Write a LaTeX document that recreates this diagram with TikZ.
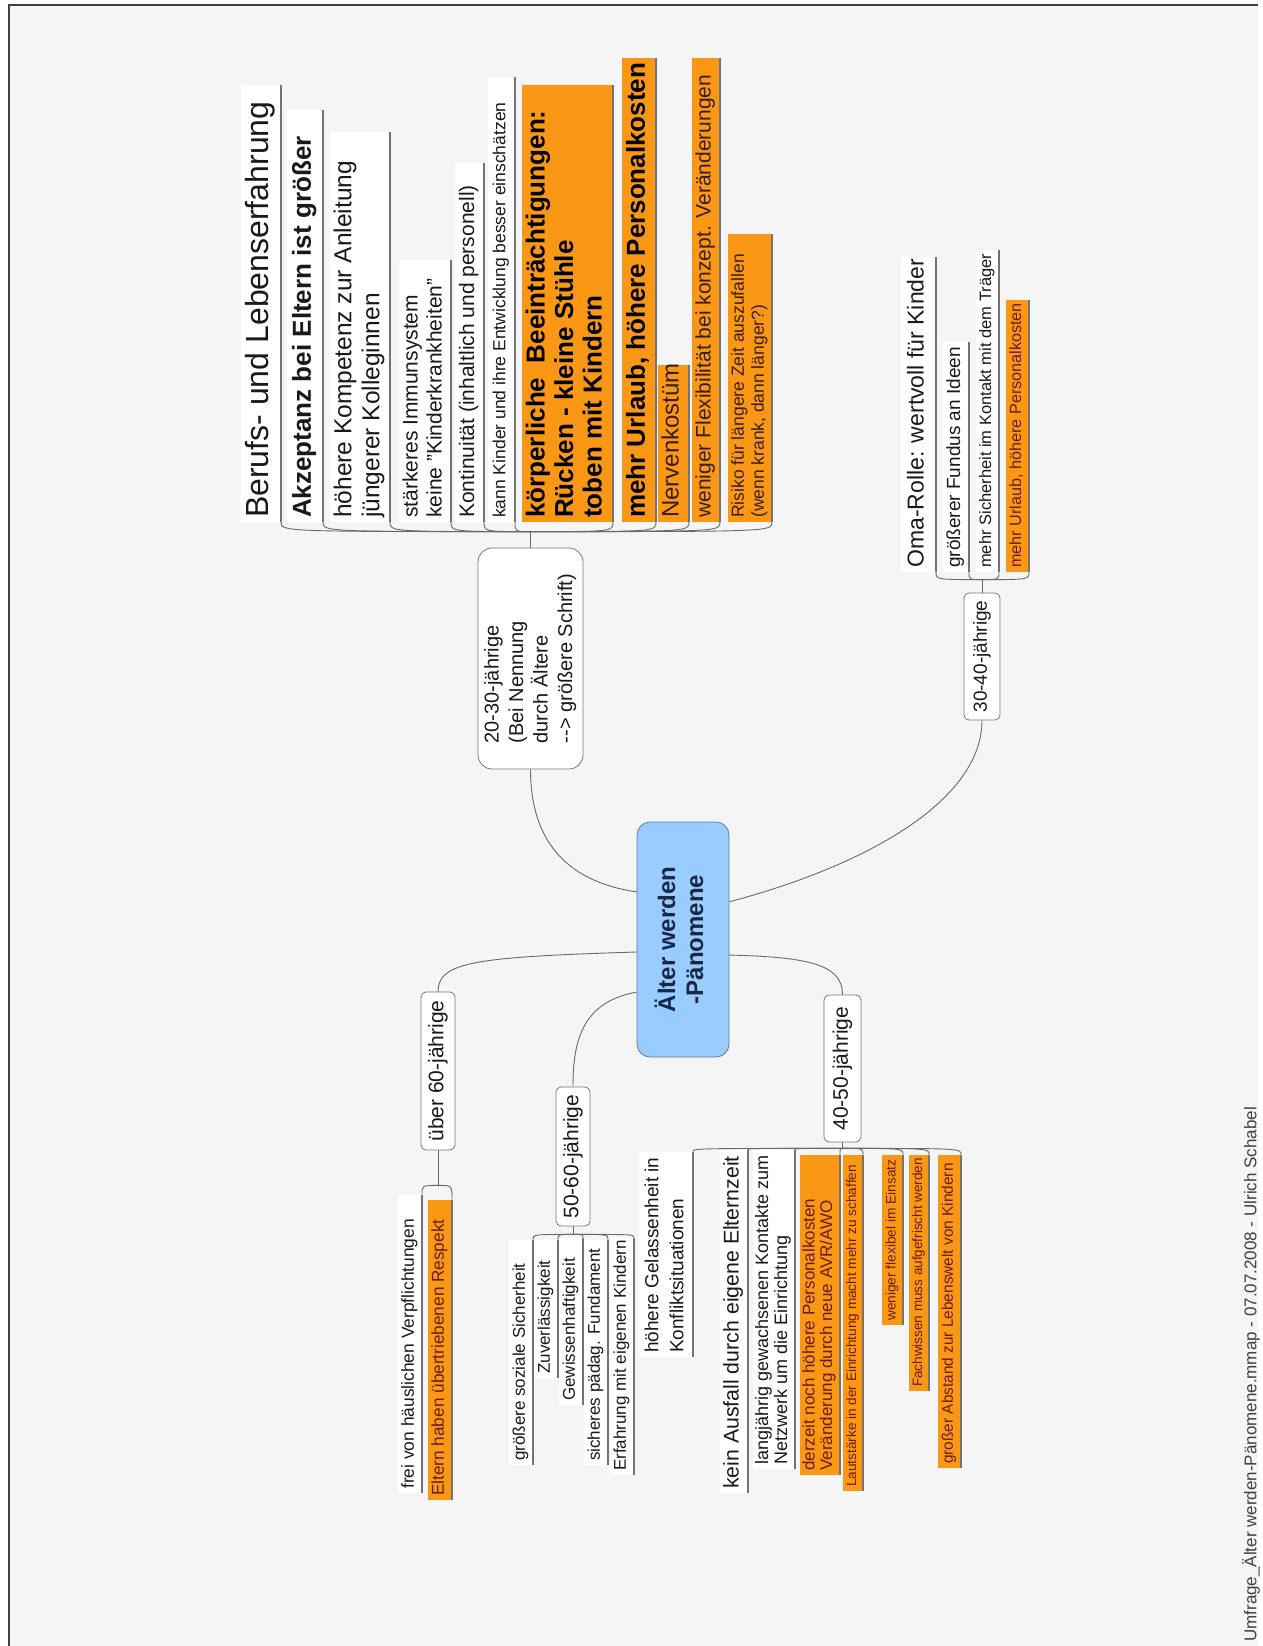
\documentclass[tikz,border=0pt]{standalone}
\usepackage{fontspec}
\setmainfont{Liberation Sans}
\usepackage{graphicx}
\usetikzlibrary{calc}
\definecolor{bgc}{RGB}{245,245,245}
\definecolor{org}{RGB}{250,152,22}
\definecolor{orgtxt}{RGB}{105,28,10}
\definecolor{orgtxd}{RGB}{55,30,20}
\definecolor{lnc}{RGB}{105,105,105}
\definecolor{ulc}{RGB}{115,115,115}
\definecolor{bnc}{RGB}{120,120,120}
\definecolor{txt}{RGB}{25,25,25}
\definecolor{cblue}{RGB}{153,204,255}
\definecolor{cblueb}{RGB}{95,125,165}
\definecolor{ctxt}{RGB}{25,40,70}
\newcommand\rt[4]{\rotatebox{90}{\fontsize{#2pt}{#3pt}\selectfont\makebox[#1pt][l]{\hspace{4pt}\begin{tabular}{@{}l@{}}#4\end{tabular}}}}
\newcommand\rtb[4]{\rotatebox{90}{\fontsize{#2pt}{#3pt}\selectfont\bfseries\makebox[#1pt][l]{\hspace{4pt}\begin{tabular}{@{}l@{}}#4\end{tabular}}}}
\tikzset{
 conn/.style={draw=lnc, line width=0.9pt},
 uline/.style={draw=ulc, line width=1.3pt},
 wstrip/.style={fill=white, inner xsep=2pt, inner ysep=0pt, minimum width=#1pt, anchor=south east, text=txt},
 ostrip/.style={fill=org, inner xsep=2pt, inner ysep=0pt, minimum width=#1pt, anchor=south east, text=orgtxt},
 ostripd/.style={ostrip=#1, text=orgtxd},
 ostripk/.style={ostrip=#1, text=black},
 bnode/.style={draw=bnc, fill=white, line width=0.8pt, rounded corners=5pt, inner sep=0pt, text=txt},
 cnode/.style={draw=cblueb, fill=cblue, line width=0.8pt, rounded corners=13pt, inner sep=0pt, text=ctxt},
 bordr/.style={draw=black!75, line width=2pt}
}
\begin{document}
\begin{tikzpicture}[x=1pt,y=-1pt]
\useasboundingbox (0,0) rectangle (1262,1646);
\fill[white] (0,0) rectangle (1262,1646);
\fill[bgc] (9,5) rectangle (1258,1646);
\draw[bordr] (9,1646) -- (9,5) -- (1258,5);

% ---------- central and branch nodes ----------
\node[cnode, minimum width=92pt, minimum height=235pt] (nC) at (683,939.5)
  {\rotatebox{90}{\fontsize{24pt}{28pt}\selectfont\bfseries\begin{tabular}{@{}c@{}}Älter werden\\-Pänomene\end{tabular}}};
\node[bnode, minimum width=105pt, minimum height=221pt, rounded corners=14pt] (n2030) at (530.5,658.5)
  {\rotatebox{90}{\fontsize{20pt}{24.5pt}\selectfont\begin{tabular}{@{}l@{}}20-30-jährige\\(Bei Nennung\\durch Ältere\\-{}-> größere Schrift)\end{tabular}}};
\node[bnode, minimum width=36pt, minimum height=127pt] (n3040) at (982,656.5)
  {\rotatebox{90}{\fontsize{19pt}{22pt}\selectfont 30-40-jährige}};
\node[bnode, minimum width=34pt, minimum height=158pt] (n60) at (438,1071)
  {\rotatebox{90}{\fontsize{21pt}{24pt}\selectfont über 60-jährige}};
\node[bnode, minimum width=34pt, minimum height=139pt] (n5060) at (573,1156.5)
  {\rotatebox{90}{\fontsize{21pt}{24pt}\selectfont 50-60-jährige}};
\node[bnode, minimum width=37pt, minimum height=147pt] (n4050) at (842.5,1068.5)
  {\rotatebox{90}{\fontsize{21pt}{24pt}\selectfont 40-50-jährige}};

% connection points on the central node
\coordinate (cL1) at ($(nC.north west)!0.298!(nC.south west)$);
\coordinate (cL2) at ($(nC.north west)!0.553!(nC.south west)$);
\coordinate (cL3) at ($(nC.north west)!0.723!(nC.south west)$);
\coordinate (cR1) at ($(nC.north east)!0.34!(nC.south east)$);
\coordinate (cR2) at ($(nC.north east)!0.566!(nC.south east)$);

\draw[conn] (n2030.south) .. controls ($(n2030.south)+(0,85)$) and ($(cL1)+(-55,-8)$) .. (cL1);
\draw[conn] (n3040.south) .. controls ($(n3040.south)+(0,75)$) and ($(cR1)+(150,-40)$) .. (cR1);
\draw[conn] (cL2) .. controls ($(cL2)+(-160,5)$) and ($(n60.north)+(0,-30)$) .. (n60.north);
\draw[conn] (cL3) .. controls ($(cL3)+(-55,10)$) and ($(n5060.north)+(0,-45)$) .. (n5060.north);
\draw[conn] (cR2) .. controls ($(cR2)+(80,2)$) and ($(n4050.north)+(0,-30)$) .. (n4050.north);

% ---------- 20-30 children ----------
\node[wstrip=38] (t1) at (281,522) {\rt{437}{32}{36}{Berufs- und Lebenserfahrung}};
\node[wstrip=36] (t2) at (323,522) {\rtb{412}{26}{30}{Akzeptanz bei Eltern ist größer}};
\node[wstrip=58] (t3) at (390,522) {\rt{390}{24.5}{28}{höhere Kompetenz zur Anleitung\\jüngerer Kolleginnen}};
\node[wstrip=52] (t4) at (451,522) {\rt{262}{21}{24}{stärkeres Immunsystem\\keine "Kinderkrankheiten"}};
\node[wstrip=29] (t5) at (484,522) {\rt{359}{21}{24}{Kontinuität (inhaltlich und personell)}};
\node[wstrip=27] (t6) at (515,522) {\rt{445}{17.5}{20}{kann Kinder und ihre Entwicklung besser einschätzen}};
\node[ostripk=91] (t7) at (613,522) {\rtb{437}{26}{28.5}{körperliche\ \ Beeinträchtigungen:\\Rücken - kleine Stühle\\toben mit Kindern}};
\node[ostripk=34] (t8) at (656,522) {\rtb{464}{26}{30}{mehr Urlaub, höhere Personalkosten}};
\node[ostripd=26] (t9) at (689,522) {\rt{157}{24}{27}{Nervenkostüm}};
\node[ostripd=25] (t10) at (720,522) {\rt{464}{21}{24}{weniger Flexibilität bei konzept. Veränderungen}};
\node[ostripd=42] (t11) at (772,522) {\rt{288}{17.5}{20}{Risiko für längere Zeit auszufallen\\(wenn krank, dann länger?)}};

\coordinate (h1) at ($(n2030.north)+(0,-16)$);
\draw[conn] (n2030.north) -- (h1);
\foreach \s in {t1,t2,t3,t4,t5,t6,t7,t8,t9,t10,t11} {
  \draw[conn] (h1) .. controls (h1 -| \s.south east) .. (\s.south east);
  \draw[uline] (\s.south east) -- (\s.north east);
}

% ---------- 30-40 children ----------
\node[wstrip=35] (o1) at (936,572) {\rt{315}{23}{26}{Oma-Rolle: wertvoll für Kinder}};
\node[wstrip=25] (o2) at (969,572) {\rt{230}{19}{22}{größerer Fundus an Ideen}};
\node[wstrip=22] (o3) at (999,572) {\rt{322}{16.5}{19}{mehr Sicherheit im Kontakt mit dem Träger}};
\node[ostrip=23] (o4) at (1029,572) {\rt{272}{16.2}{19}{mehr Urlaub, höhere Personalkosten}};
\coordinate (h2) at ($(n3040.north)+(0,-13)$);
\draw[conn] (n3040.north) -- (h2);
\foreach \s in {o1,o2,o3,o4} {
  \draw[conn] (h2) .. controls (h2 -| \s.south east) .. (\s.south east);
  \draw[uline] (\s.south east) -- (\s.north east);
}

% ---------- ueber 60 children ----------
\node[wstrip=22] (b1) at (422,1493) {\rt{298}{17.4}{20}{frei von häuslichen Verpflichtungen}};
\node[ostrip=22] (b2) at (452,1500) {\rt{300}{17.2}{20}{Eltern haben übertriebenen Respekt}};
\coordinate (h3) at ($(n60.south)+(0,35)$);
\draw[conn] (n60.south) -- (h3);
\foreach \s in {b1,b2} {
  \draw[conn] (h3) .. controls (h3 -| \s.north east) .. (\s.north east);
  \draw[uline] (\s.south east) -- (\s.north east);
}

% ---------- 50-60 children ----------
\node[wstrip=22] (c1) at (533,1465) {\rt{225}{17}{20}{größere soziale Sicherheit}};
\node[wstrip=22] (c2) at (558,1378) {\rt{138}{17}{20}{Zuverlässigkeit}};
\node[wstrip=22] (c3) at (583,1405) {\rt{167}{17}{20}{Gewissenhaftigkeit}};
\node[wstrip=22] (c4) at (608,1465) {\rt{225}{17}{20}{sicheres pädag. Fundament}};
\node[wstrip=22] (c5) at (634,1475) {\rt{237}{17}{20}{Erfahrung mit eigenen Kindern}};
\coordinate (h4) at ($(n5060.south)+(0,8)$);
\draw[conn] (n5060.south) -- (h4);
\foreach \s in {c1,c2,c3,c4,c5} {
  \draw[conn] (h4) .. controls (h4 -| \s.north east) .. (\s.north east);
  \draw[uline] (\s.south east) -- (\s.north east);
}

% ---------- 40-50 children ----------
\node[wstrip=52] (d1) at (693,1357) {\rt{205}{19}{25}{höhere Gelassenheit in\\Konfliktsituationen}};
\node[wstrip=24] (d2) at (748,1493) {\rt{343}{21.3}{24}{kein Ausfall durch eigene Elternzeit}};
\node[wstrip=40] (d3) at (795,1469) {\rt{319}{18}{19}{langjährig gewachsenen Kontakte zum\\Netzwerk um die Einrichtung}};
\node[ostrip=40] (d4) at (840,1475) {\rt{320}{17}{17.5}{derzeit noch höhere Personalkosten\\Veränderung durch neue AVR/AWO}};
\node[ostrip=20] (d5) at (863,1491) {\rt{336}{13.6}{16}{Lautstärke in der Einrichtung macht mehr zu schaffen}};
\node[ostrip=21] (d6) at (903,1325) {\rt{170}{13.7}{16}{weniger flexibel im Einsatz}};
\node[ostrip=20] (d7) at (929,1391) {\rt{236}{13.5}{16}{Fachwissen muss aufgefrischt werden}};
\node[ostrip=23] (d8) at (961,1468) {\rt{313}{15.4}{18}{großer Abstand zur Lebenswelt von Kindern}};
\coordinate (h5) at ($(n4050.south)+(0,6)$);
\draw[conn] (n4050.south) -- (h5);
\foreach \s in {d1,d2,d3,d4,d5,d6,d7,d8} {
  \draw[conn] (h5) .. controls (h5 -| \s.north east) .. (\s.north east);
  \draw[uline] (\s.south east) -- (\s.north east);
}

% ---------- footer ----------
\node[anchor=south, inner sep=0pt, text=black!75] (foot) at (1251,1642)
  {\rotatebox{90}{\fontsize{17pt}{20pt}\selectfont Umfrage\_Älter werden-Pänomene.mmap - 07.07.2008 - Ulrich Schabel}};
\end{tikzpicture}
\end{document}
